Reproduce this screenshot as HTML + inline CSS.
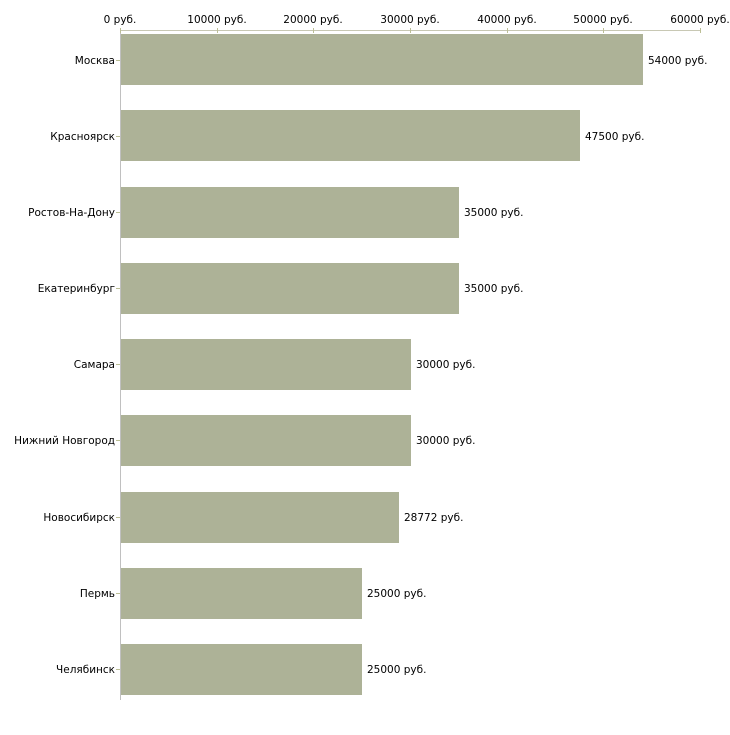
<!DOCTYPE html>
<html><head><meta charset="utf-8"><style>
body{margin:0;background:#fff}
svg text{font-family:"DejaVu Sans","Liberation Sans",sans-serif;font-size:10.5px;fill:#000}
</style></head><body>
<svg width="730" height="730" xmlns="http://www.w3.org/2000/svg">
<line x1="120" y1="30.5" x2="700" y2="30.5" stroke="#c8c8b4" stroke-width="1"/>
<line x1="120.5" y1="28" x2="120.5" y2="700" stroke="#c0c0c0" stroke-width="1"/>
<g stroke="#bcbf96">
<line x1="120.5" y1="28" x2="120.5" y2="33"/><line x1="217.5" y1="28" x2="217.5" y2="33"/><line x1="313.5" y1="28" x2="313.5" y2="33"/><line x1="410.5" y1="28" x2="410.5" y2="33"/><line x1="507.5" y1="28" x2="507.5" y2="33"/><line x1="603.5" y1="28" x2="603.5" y2="33"/><line x1="700.5" y1="28" x2="700.5" y2="33"/>
</g>
<g text-anchor="middle">
<text x="120" y="23">0 руб.</text><text x="217" y="23">10000 руб.</text><text x="313" y="23">20000 руб.</text><text x="410" y="23">30000 руб.</text><text x="507" y="23">40000 руб.</text><text x="603" y="23">50000 руб.</text><text x="700" y="23">60000 руб.</text>
</g>
<g fill="#adb297">
<rect x="121" y="34" width="522" height="51"/>
<rect x="121" y="110" width="459" height="51"/>
<rect x="121" y="187" width="338" height="51"/>
<rect x="121" y="263" width="338" height="51"/>
<rect x="121" y="339" width="290" height="51"/>
<rect x="121" y="415" width="290" height="51"/>
<rect x="121" y="492" width="278" height="51"/>
<rect x="121" y="568" width="241" height="51"/>
<rect x="121" y="644" width="241" height="51"/>
</g>
<g stroke="#bcbf96">
<line x1="116" y1="60.5" x2="120" y2="60.5"/><line x1="116" y1="136.5" x2="120" y2="136.5"/><line x1="116" y1="212.5" x2="120" y2="212.5"/><line x1="116" y1="288.5" x2="120" y2="288.5"/><line x1="116" y1="364.5" x2="120" y2="364.5"/><line x1="116" y1="440.5" x2="120" y2="440.5"/><line x1="116" y1="517.5" x2="120" y2="517.5"/><line x1="116" y1="593.5" x2="120" y2="593.5"/><line x1="116" y1="669.5" x2="120" y2="669.5"/>
</g>
<g text-anchor="end">
<text x="115" y="64">Москва</text><text x="115" y="140">Красноярск</text><text x="115" y="216">Ростов-На-Дону</text><text x="115" y="292">Екатеринбург</text><text x="115" y="368">Самара</text><text x="115" y="444">Нижний Новгород</text><text x="115" y="521">Новосибирск</text><text x="115" y="597">Пермь</text><text x="115" y="673">Челябинск</text>
</g>
<text x="648" y="64">54000 руб.</text>
<text x="585" y="140">47500 руб.</text>
<text x="464" y="216">35000 руб.</text>
<text x="464" y="292">35000 руб.</text>
<text x="416" y="368">30000 руб.</text>
<text x="416" y="444">30000 руб.</text>
<text x="404" y="521">28772 руб.</text>
<text x="367" y="597">25000 руб.</text>
<text x="367" y="673">25000 руб.</text>
</svg>
</body></html>
